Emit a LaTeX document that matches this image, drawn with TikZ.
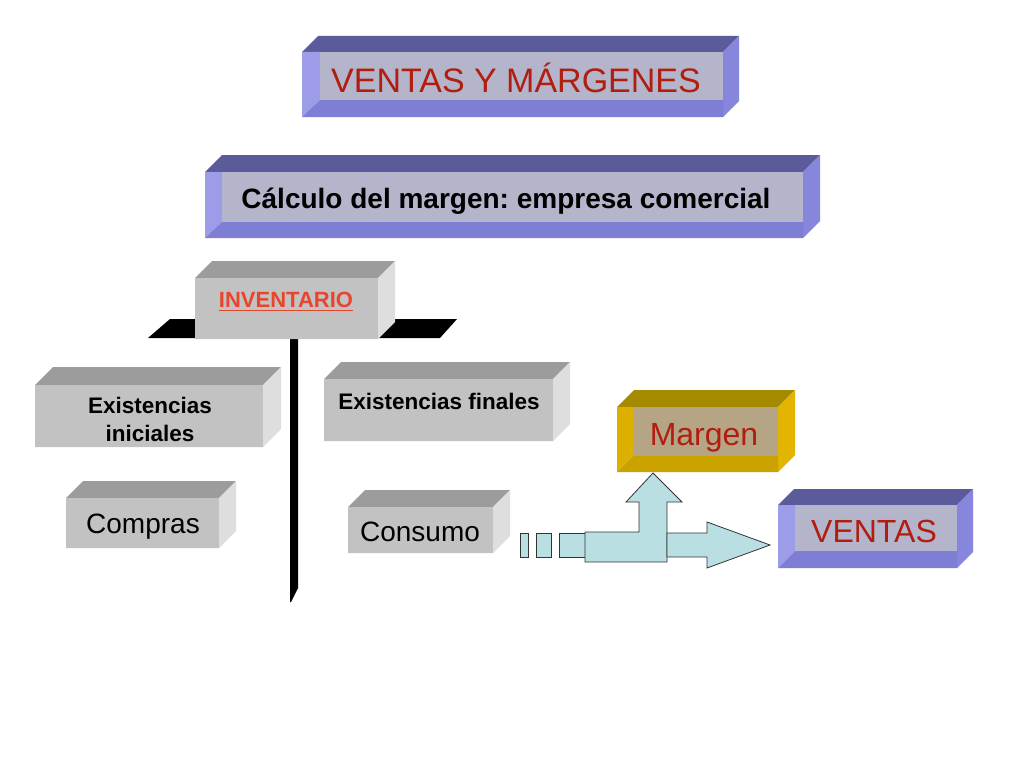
\documentclass[tikz,border=0pt]{standalone}
\usepackage{fontspec}
\setmainfont{Liberation Sans}
\frenchspacing
\definecolor{btop}{HTML}{5B5B9B}
\definecolor{bright}{HTML}{8686DC}
\definecolor{bleft}{HTML}{9C9CE8}
\definecolor{bbot}{HTML}{7E7ED4}
\definecolor{bin}{HTML}{B4B4CA}
\definecolor{gtop}{HTML}{9C9C9C}
\definecolor{gright}{HTML}{DEDEDE}
\definecolor{gleft}{HTML}{C2C2C2}
\definecolor{gbot}{HTML}{C2C2C2}
\definecolor{gin}{HTML}{C2C2C2}
\definecolor{ytop}{HTML}{A58A00}
\definecolor{yright}{HTML}{E3B400}
\definecolor{yleft}{HTML}{DDB000}
\definecolor{ybot}{HTML}{C9A200}
\definecolor{yin}{HTML}{B5A585}
\definecolor{titlered}{HTML}{B01E10}
\definecolor{invred}{HTML}{E8452C}
\definecolor{arrowfill}{HTML}{B9DFE2}
\newcommand\bevbox[8]{%
  \fill[#8top] (#1,#2) -- (#1+#7,#2-#7) -- (#3+#7,#2-#7) -- (#3,#2) -- cycle;
  \fill[#8right] (#3,#2) -- (#3+#7,#2-#7) -- (#3+#7,#4-#7) -- (#3,#4) -- cycle;
  \fill[#8left] (#1,#2) -- (#5,#2) -- (#5,#6) -- (#1,#4) -- cycle;
  \fill[#8bot] (#1,#4) -- (#5,#6) -- (#3,#6) -- (#3,#4) -- cycle;
  \fill[#8in] (#5,#2) rectangle (#3,#6);
}
\tikzset{
  lbl/.style={inner sep=0pt, anchor=base},
  bigred/.style={lbl, text=titlered, font=\fontsize{33}{38}\selectfont},
  boldblk/.style={lbl, text=black, font=\fontsize{22.5}{27}\selectfont\bfseries},
  regblk/.style={lbl, text=black, font=\fontsize{28}{32}\selectfont},
  arrowshape/.style={fill=arrowfill, draw=black!80, line width=0.8pt, line join=miter},
}
\begin{document}
\begin{tikzpicture}[x=1pt,y=-1pt]
\useasboundingbox[fill=white] (0,0) rectangle (1024,768);

% title
\bevbox{302}{52}{723}{117}{320}{100}{16}{b}
\node[bigred, font=\fontsize{34}{38}\selectfont] (title) at (516,92) {VENTAS Y MÁRGENES};

% calculo
\bevbox{205}{172}{803}{238}{222}{222}{17}{b}
\node[lbl, font=\fontsize{28}{32}\selectfont\bfseries] (calc) at (506,208) {Cálculo del margen: empresa comercial};

% black T
\fill[black] (170,319) -- (457,319) -- (440,338) -- (148,338) -- cycle;
\fill[black] (290,338) -- (298,338) -- (298,588) -- (291,602) -- (290,602) -- cycle;

% inventario
\bevbox{195}{278}{378}{339}{195}{339}{17}{g}
\node[lbl, text=invred, font=\fontsize{22}{26}\selectfont\bfseries] (inv) at (286,307) {INVENTARIO};
\draw[invred, line width=1.8pt] ([yshift=-3.5pt]inv.base west) -- ([yshift=-3.5pt]inv.base east);

% existencias iniciales
\bevbox{35}{385}{263}{447}{35}{447}{18}{g}
\node[boldblk] (ei1) at (150,413) {Existencias};
\node[boldblk] (ei2) at (150,441) {iniciales};

% existencias finales
\bevbox{324}{379}{553}{441}{324}{441}{17}{g}
\node[boldblk] (ef) at (439,409) {Existencias finales};

% compras
\bevbox{66}{498}{219}{548}{66}{548}{17}{g}
\node[regblk] (comp) at (143,533) {Compras};

% consumo
\bevbox{348}{507}{493}{553}{348}{553}{17}{g}
\node[regblk] (cons) at (420,541) {Consumo};

% margen
\bevbox{617}{407}{778}{472}{633}{456}{17}{y}
\node[bigred, font=\fontsize{32}{36}\selectfont] (marg) at (704,445) {Margen};

% ventas
\bevbox{778}{505}{957}{568}{795}{551}{16}{b}
\node[bigred, font=\fontsize{32}{36}\selectfont] (vent) at (874,542) {VENTAS};

% arrows
\draw[arrowshape] (520,533) rectangle (528,557);
\draw[arrowshape] (536,533) rectangle (551,557);
\draw[arrowshape] (559,533) rectangle (585,557);
\draw[arrowshape] (585,532) -- (639,532) -- (639,502) -- (626,502) -- (653,473)
  -- (682,502) -- (667,502) -- (667,562) -- (585,562) -- cycle;
\draw[arrowshape] (667,533) -- (707,533) -- (707,522) -- (770,545) -- (707,568)
  -- (707,557) -- (667,557) -- cycle;
\end{tikzpicture}
\end{document}
